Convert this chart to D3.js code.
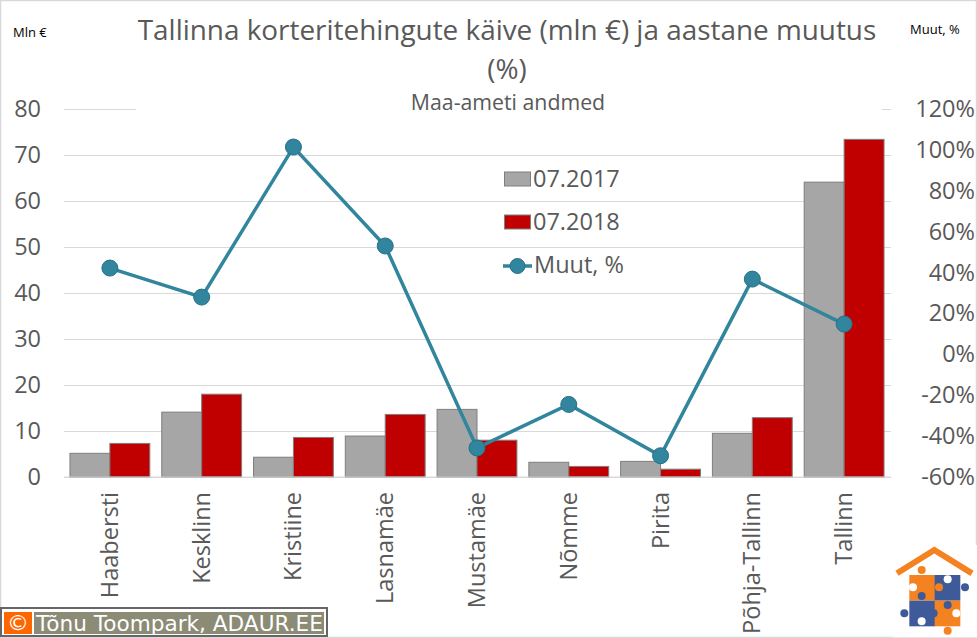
<!DOCTYPE html>
<html>
<head>
<meta charset="utf-8">
<script src="https://cdn.jsdelivr.net/npm/d3@7"></script>
<style>
body { margin: 0; background: #fff; }
text { font-family: "Open Sans", sans-serif; fill: #595959; }
</style>
</head>
<body>
<div id="chart"></div>
<script>
// values
const districts = ["Haabersti", "Kesklinn", "Kristiine", "Lasnamäe", "Mustamäe", "Nõmme", "Pirita", "Põhja-Tallinn", "Tallinn"];
const turnover2017 = [5.15, 14.1, 4.3, 8.9, 14.7, 3.2, 3.4, 9.5, 64.1];
const turnover2018 = [7.3, 18.0, 8.6, 13.6, 8.0, 2.3, 1.7, 12.9, 73.4];
const change = [42.2, 28, 101.4, 53, -45.8, -24.5, -49.6, 36.8, 14.8];
const leftTicks = [0, 10, 20, 30, 40, 50, 60, 70, 80];
const rightTicks = [-60, -40, -20, 0, 20, 40, 60, 80, 100, 120];

const width = 977, height = 638;
const margin = {top: 109, right: 86, bottom: 161, left: 64};
const plotW = width - margin.left - margin.right;
const plotH = height - margin.top - margin.bottom;

const svg = d3.select("#chart").append("svg")
    .attr("width", width)
    .attr("height", height)
    .style("display", "block");

// chart border
svg.append("rect")
    .attr("x", 0.5).attr("y", 0.5)
    .attr("width", width - 1).attr("height", height - 1)
    .attr("fill", "#fff")
    .attr("stroke", "#d9d9d9")
    .attr("stroke-width", 1.5);

const g = svg.append("g").attr("transform", "translate(" + margin.left + "," + margin.top + ")");

const x = d3.scaleBand().domain(districts).range([0, plotW - 1]).paddingInner(0.13).paddingOuter(0.065);
const x1 = d3.scaleBand().domain([0, 1]).range([0, x.bandwidth()]);
const y = d3.scaleLinear().domain([0, 80]).range([plotH, 0]);
const y2 = d3.scaleLinear().domain([-60, 120]).range([plotH, 0]);

// left axis with gridlines
const leftAxis = g.append("g")
    .call(d3.axisLeft(y).tickValues(leftTicks).tickSize(-plotW).tickPadding(13).tickFormat(d3.format("d")));
leftAxis.select(".domain").remove();
leftAxis.selectAll("line").attr("stroke", "#d9d9d9").attr("stroke-width", 1.2);
leftAxis.selectAll("text").style("font-size", "23.5px").attr("x", -23).attr("text-anchor", "end");

// right axis
const rightAxis = g.append("g")
    .attr("transform", "translate(" + plotW + ",0)")
    .call(d3.axisRight(y2).tickValues(rightTicks).tickSize(0).tickPadding(3).tickFormat(d => d + "%"));
rightAxis.select(".domain").remove();
rightAxis.selectAll("text").style("font-size", "23.5px").attr("text-anchor", "end").attr("x", 84);

// bars
function drawBars(values, idx, color) {
    g.append("g")
        .selectAll("rect")
        .data(values)
        .enter()
        .append("rect")
        .attr("x", (d, i) => x(districts[i]) + x1(idx))
        .attr("y", d => y(d))
        .attr("width", x1.bandwidth())
        .attr("height", d => plotH - y(d))
        .attr("fill", color)
        .attr("stroke", "#7f7f7f")
        .attr("stroke-width", 1);
}
drawBars(turnover2017, 0, "#a6a6a6");
drawBars(turnover2018, 1, "#c00000");

// baseline on top of the bars
g.append("line")
    .attr("x1", 0).attr("x2", plotW)
    .attr("y1", plotH).attr("y2", plotH)
    .attr("stroke", "#d9d9d9")
    .attr("stroke-width", 1.2);

// category labels
g.append("g")
    .selectAll("text")
    .data(districts)
    .enter()
    .append("text")
    .attr("transform", d => "translate(" + (x(d) + x.bandwidth() / 2 + 8) + "," + (plotH + 15) + ") rotate(-90)")
    .attr("text-anchor", "end")
    .style("font-size", "23.5px")
    .text(d => d);

// change line
const line = d3.line()
    .x((d, i) => x(districts[i]) + x.bandwidth() / 2)
    .y(d => y2(d));

g.append("path")
    .datum(change)
    .attr("fill", "none")
    .attr("stroke", "#31859c")
    .attr("stroke-width", 3.5)
    .attr("d", line);

g.append("g")
    .selectAll("circle")
    .data(change)
    .enter()
    .append("circle")
    .attr("cx", (d, i) => x(districts[i]) + x.bandwidth() / 2)
    .attr("cy", d => y2(d))
    .attr("r", 8)
    .attr("fill", "#31859c")
    .attr("stroke", "#2a7088")
    .attr("stroke-width", 1);

// white title box hides the top gridline
svg.append("rect")
    .attr("x", 136).attr("y", 8)
    .attr("width", 746).attr("height", 110)
    .attr("fill", "#fff");

// titles
svg.append("text")
    .attr("x", 507).attr("y", 40)
    .attr("text-anchor", "middle")
    .style("font-size", "27.9px")
    .text("Tallinna korteritehingute käive (mln €) ja aastane muutus");
svg.append("text")
    .attr("x", 507).attr("y", 79)
    .attr("text-anchor", "middle")
    .style("font-size", "27.9px")
    .text("(%)");
svg.append("text")
    .attr("x", 508).attr("y", 110)
    .attr("text-anchor", "middle")
    .style("font-size", "21.3px")
    .text("Maa-ameti andmed");

// axis captions
svg.append("text")
    .attr("x", 13).attr("y", 37)
    .style("font-size", "13px")
    .style("fill", "#000")
    .text("Mln €");
svg.append("text")
    .attr("x", 910).attr("y", 34)
    .style("font-size", "13px")
    .style("fill", "#000")
    .text("Muut, %");

// legend
const legend = svg.append("g");
[["07.2017", "#a6a6a6", 187], ["07.2018", "#c00000", 230]].forEach(item => {
    legend.append("rect")
        .attr("x", 504.5).attr("y", item[2] - 15)
        .attr("width", 26).attr("height", 14)
        .attr("fill", item[1])
        .attr("stroke", "#7f7f7f");
    legend.append("text")
        .attr("x", 533).attr("y", item[2])
        .style("font-size", "23.5px")
        .text(item[0]);
});
legend.append("line")
    .attr("x1", 503).attr("x2", 532)
    .attr("y1", 266).attr("y2", 266)
    .attr("stroke", "#31859c")
    .attr("stroke-width", 3.5);
legend.append("circle")
    .attr("cx", 517.5).attr("cy", 266)
    .attr("r", 7.5)
    .attr("fill", "#31859c")
    .attr("stroke", "#2a7088");
legend.append("text")
    .attr("x", 534).attr("y", 273)
    .style("font-size", "23.5px")
    .text("Muut, %");

// copyright badge
const badge = svg.append("g");
badge.append("rect").attr("x", 1).attr("y", 608).attr("width", 326).attr("height", 28)
    .attr("fill", "#fff").attr("stroke", "#666").attr("stroke-width", 2);
badge.append("rect").attr("x", 4).attr("y", 612).attr("width", 28).attr("height", 22).attr("fill", "#ff6600");
badge.append("rect").attr("x", 34).attr("y", 612).attr("width", 290).attr("height", 22).attr("fill", "#8b8b76");
badge.append("text").attr("x", 18).attr("y", 630).attr("text-anchor", "middle")
    .style("font-family", "DejaVu Sans").style("font-size", "22px").style("fill", "#fff").text("©");
badge.append("text").attr("x", 36).attr("y", 631)
    .style("font-family", "DejaVu Sans").style("font-size", "21.6px").style("fill", "#fff").text("Tõnu Toompark, ADAUR.EE");

// house logo
const logo = svg.append("g").attr("transform", "translate(877,530) scale(0.3333)");
const orange = "#f58220", blue = "#3f5a98";
logo.append("rect").attr("x", 48).attr("y", 45).attr("width", 252).attr("height", 277).attr("fill", "#fff");
logo.append("path").attr("d", "M60,130L172,60L285,130").attr("fill", "none").attr("stroke", orange).attr("stroke-width", 18);
[[97, 135, orange], [173, 135, blue], [97, 212, blue], [173, 212, orange]].forEach(p => {
    logo.append("rect").attr("x", p[0]).attr("y", p[1]).attr("width", 77).attr("height", 77).attr("fill", p[2]);
});
[[134, 120, orange], [108, 172, "#fff"], [186, 172, orange], [212, 148, "#fff"], [264, 172, blue], [134, 198, blue],
 [82, 250, blue], [170, 250, blue], [134, 274, "#fff"], [238, 250, "#fff"], [212, 225, blue], [212, 302, orange]].forEach(k => {
    logo.append("circle").attr("cx", k[0]).attr("cy", k[1]).attr("r", 12).attr("fill", k[2]);
});
</script>
</body>
</html>
